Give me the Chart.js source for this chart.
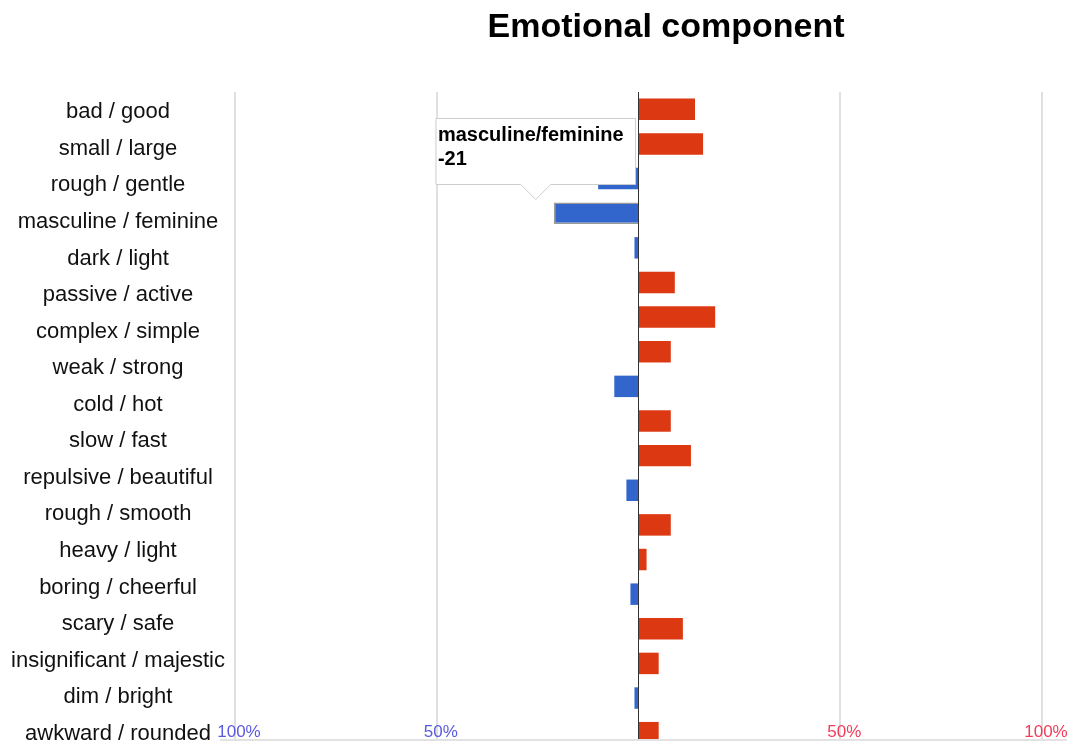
<!DOCTYPE html>
<html>
<head>
<meta charset="utf-8">
<script src="https://cdn.jsdelivr.net/npm/chart.js@4.4.1/dist/chart.umd.min.js"></script>
<style>
    html, body { margin: 0; padding: 0; background: #fff; overflow: hidden; }
    #wrap { position: relative; width: 1067px; height: 742px; overflow: hidden; }
    #baseLine { position: absolute; left: 220px; top: 739px; width: 847px; height: 3px; background: #fff; border-top: 2px solid #e2e2e2; }
</style>
</head>
<body>
<div id="wrap">
    <canvas id="chart" width="1067" height="750"></canvas>
    <div id="baseLine"></div>
</div>
<script>
// Emotional component - semantic differential scores

const chartTitle = 'Emotional component';

// labels shown on the left axis
const rowLabels = [
    'bad / good', 'small / large', 'rough / gentle', 'masculine / feminine',
    'dark / light', 'passive / active', 'complex / simple', 'weak / strong',
    'cold / hot', 'slow / fast', 'repulsive / beautiful', 'rough / smooth',
    'heavy / light', 'boring / cheerful', 'scary / safe', 'insignificant / majestic',
    'dim / bright', 'awkward / rounded'
];

// bar values (one more row than the visible labels, as in the picture)
const scores = [14, 16, -10, -21, -1, 9, 19, 8, -6, 8, 13, -3, 8, 2, -2, 11, 5, -1, 5];

// horizontal axis
const xTicks = [-100, -50, 0, 50, 100];
const highlighted = 3;

const RED = '#dc3912';
const BLUE = '#3366cc';
const FONT = '"Liberation Sans", Arial, sans-serif';

const tooltipPlugin = Chart.registry.getPlugin('tooltip');
tooltipPlugin.positioners.callout = function (items) {
    if (!items.length) return false;
    const el = items[0].element;
    return { x: el.x - 18, y: el.y - el.height / 2 - 3 };
};

// titre dessiné au-dessus de la zone du graphique
const titlePlugin = {
    id: 'sideTitle',
    afterDraw(chart) {
        const ctx = chart.ctx;
        ctx.save();
        ctx.font = 'bold 34px ' + FONT;
        ctx.fillStyle = '#000';
        ctx.textAlign = 'center';
        ctx.textBaseline = 'alphabetic';
        ctx.fillText(chartTitle, 666, 37);
        ctx.restore();
    }
};

const barColor = ctx => (ctx.raw < 0 ? BLUE : RED);

const chart = new Chart(document.getElementById('chart'), {
    type: 'bar',
    data: {
        labels: scores.map((v, i) => rowLabels[i] || ''),
        datasets: [{
            data: scores,
            backgroundColor: barColor,
            hoverBackgroundColor: barColor,
            borderWidth: 0,
            hoverBorderWidth: 1.5,
            hoverBorderColor: '#9a9a9a',
            barPercentage: 1,
            categoryPercentage: 0.62
        }]
    },
    options: {
        indexAxis: 'y',
        responsive: false,
        animation: false,
        events: [],
        layout: { padding: { top: 92, right: 25, bottom: 0, left: 0 } },
        plugins: {
            legend: { display: false },
            title: { display: false },
            tooltip: {
                enabled: true,
                position: 'callout',
                xAlign: 'center',
                yAlign: 'bottom',
                backgroundColor: '#fff',
                borderColor: '#cccccc',
                borderWidth: 1,
                cornerRadius: 0,
                caretSize: 15,
                caretPadding: 0,
                displayColors: false,
                titleColor: '#000',
                bodyColor: '#000',
                titleFont: { family: FONT, size: 20, weight: 'bold' },
                bodyFont: { family: FONT, size: 20, weight: 'bold' },
                titleMarginBottom: 0,
                padding: { top: 5, right: 12, bottom: 13, left: 2 },
                callbacks: {
                    title: items => items[0].label.replace(/ \/ /g, '/'),
                    label: item => String(item.raw)
                }
            }
        },
        scales: {
            x: {
                type: 'linear',
                position: { y: 18.5 },
                min: xTicks[0],
                max: xTicks[xTicks.length - 1],
                afterBuildTicks: scale => { scale.ticks = xTicks.map(v => ({ value: v })); },
                border: { display: false },
                grid: {
                    z: 1,
                    drawTicks: false,
                    color: ctx => (ctx.tick && ctx.tick.value === 0 ? '#333333' : '#e0e0e0'),
                    lineWidth: ctx => (ctx.tick && ctx.tick.value === 0 ? 1 : 2)
                },
                ticks: {
                    z: 2,
                    padding: -28,
                    labelOffset: 4,
                    maxRotation: 0,
                    autoSkip: false,
                    font: { family: FONT, size: 17 },
                    color: ctx => (ctx.tick.value < 0 ? '#5a5ae0' : '#f23c5a'),
                    callback: v => (v === 0 ? '' : Math.abs(v) + '%')
                }
            },
            y: {
                display: false,
                offset: true
            },
            yLabels: {
                type: 'category',
                position: 'left',
                labels: rowLabels,
                offset: true,
                afterFit: scale => {
                    scale.width = 235;
                    scale.paddingTop = 0;
                    scale.paddingBottom = 0;
                },
                border: { display: false },
                grid: { display: false, drawTicks: false },
                ticks: {
                    crossAlign: 'center',
                    padding: 10,
                    labelOffset: 2,
                    autoSkip: false,
                    font: { family: FONT, size: 22 },
                    color: '#111'
                }
            }
        }
    },
    plugins: [titlePlugin]
});

chart.setActiveElements([{ datasetIndex: 0, index: highlighted }]);
chart.tooltip.setActiveElements([{ datasetIndex: 0, index: highlighted }], { x: 0, y: 0 });
chart.update();
</script>
</body>
</html>
